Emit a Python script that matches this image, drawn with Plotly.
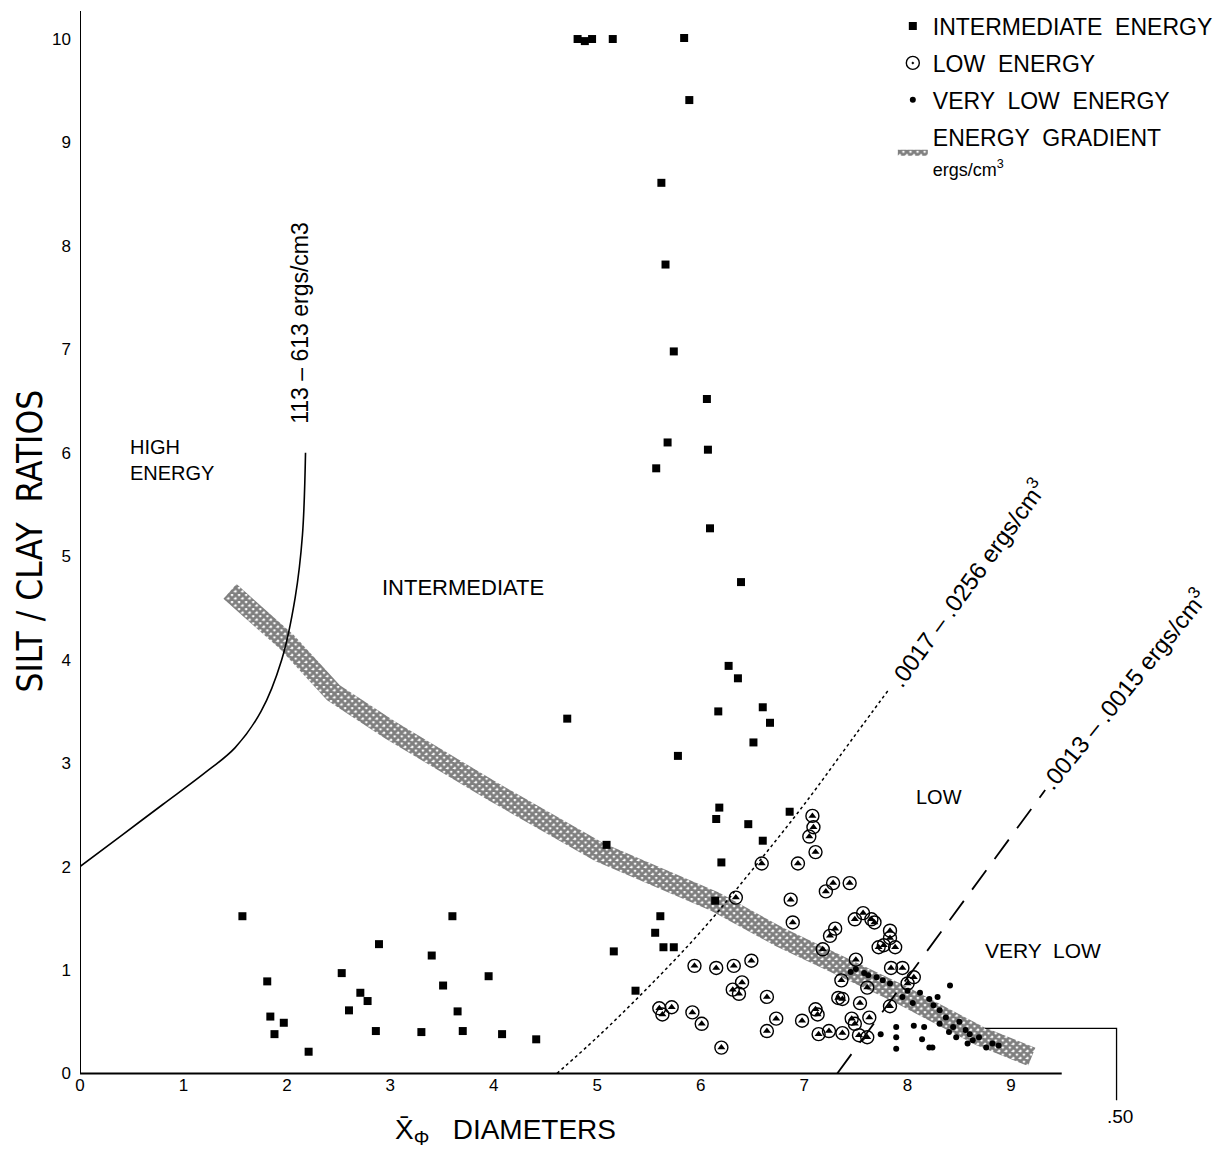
import numpy as np
import plotly.graph_objects as go

# ---------------- data ----------------
inter_x = [4.81, 4.88, 4.95, 5.15, 5.84, 5.89, 5.62, 5.66, 5.74, 6.06, 5.68, 6.07, 5.57, 6.09, 6.39,
           6.27, 6.36, 6.17, 4.71, 6.60, 6.67, 6.51, 5.78, 6.18, 6.15, 6.46, 6.86, 6.60, 6.20, 6.14,
           5.61, 5.56, 5.64, 5.74, 5.16, 5.37, 5.09,
           1.57, 1.81, 1.84, 1.97, 1.88, 2.21, 2.53, 2.89, 2.71, 2.78, 2.60, 2.86, 3.30, 3.40, 3.60,
           3.51, 3.65, 3.70, 3.95, 4.08, 4.41]
inter_y = [10.0, 9.98, 10.0, 10.0, 10.01, 9.41, 8.61, 7.82, 6.98, 6.52, 6.10, 6.03, 5.85, 5.27, 4.75,
           3.94, 3.82, 3.50, 3.43, 3.54, 3.39, 3.20, 3.07, 2.57, 2.46, 2.41, 2.53, 2.25, 2.04, 1.67,
           1.52, 1.36, 1.22, 1.22, 1.18, 0.80, 2.21,
           1.52, 0.89, 0.55, 0.49, 0.38, 0.21, 0.97, 1.25, 0.78, 0.70, 0.61, 0.41, 0.40, 1.14, 1.52,
           0.85, 0.60, 0.41, 0.94, 0.38, 0.33]

low_x = [7.08, 7.09, 7.05, 7.11, 6.59, 6.94, 7.28, 7.21, 7.44, 6.34, 6.87, 6.89, 7.30, 7.25, 7.57,
         7.49, 7.65, 7.68, 7.83, 7.83, 7.72, 7.88, 7.77, 7.18, 7.50, 7.36, 7.61, 7.84, 7.95, 8.06,
         8.00, 7.83, 5.94, 6.15, 6.32, 6.49, 6.31, 6.40, 6.37, 6.64, 7.33, 7.37, 7.54, 5.60, 5.72,
         5.63, 5.92, 6.01, 6.73, 6.64, 6.98, 7.11, 7.13, 7.46, 7.49, 7.63, 7.14, 7.24, 7.37, 7.53,
         7.61, 6.20]
low_y = [2.49, 2.38, 2.29, 2.14, 2.03, 2.03, 1.84, 1.76, 1.84, 1.70, 1.68, 1.46, 1.40, 1.33, 1.55,
         1.49, 1.49, 1.46, 1.38, 1.31, 1.22, 1.22, 1.24, 1.20, 1.10, 0.90, 0.83, 1.02, 1.02, 0.93,
         0.87, 0.65, 1.04, 1.02, 1.04, 1.09, 0.81, 0.88, 0.77, 0.74, 0.73, 0.72, 0.68, 0.63, 0.64,
         0.57, 0.59, 0.48, 0.53, 0.41, 0.51, 0.62, 0.57, 0.53, 0.48, 0.54, 0.38, 0.41, 0.39, 0.37,
         0.35, 0.25]

vlow_x = [8.41, 7.89, 8.06, 8.16, 7.89, 8.14, 7.89, 8.21, 8.24, 7.74, 8.29, 8.58,
          7.50, 7.58, 7.70, 7.83, 7.95, 8.05, 8.21, 8.31, 8.37, 8.44, 8.56, 8.69, 8.82, 8.76,
          8.31, 8.47, 8.63, 8.12, 8.25, 8.50, 8.40, 8.60, 8.88, 7.76, 7.62, 8.00, 7.45]
vlow_y = [0.85, 0.45, 0.46, 0.45, 0.35, 0.33, 0.24, 0.25, 0.25, 0.38, 0.74, 0.29,
          1.01, 0.97, 0.93, 0.87, 0.74, 0.68, 0.72, 0.61, 0.54, 0.45, 0.42, 0.35, 0.29, 0.25,
          0.48, 0.35, 0.32, 0.78, 0.66, 0.50, 0.40, 0.38, 0.27, 0.90, 0.95, 0.80, 0.98]

# energy gradient band centre line
band_x = [1.45, 2.00, 2.45, 3.00, 4.00, 5.02, 6.14, 6.76, 7.92, 8.70, 9.20]
band_y = [4.66, 4.17, 3.68, 3.32, 2.72, 2.14, 1.66, 1.32, 0.77, 0.36, 0.16]

# boundary curves
high_x = [0.0, 0.4, 0.8, 1.2, 1.5, 1.75, 1.95, 2.08, 2.15, 2.18]
high_y = [2.0, 2.3, 2.6, 2.9, 3.15, 3.5, 4.0, 4.6, 5.2, 6.0]

dot_x = [4.61, 5.0, 5.5, 6.0, 6.5, 7.0, 7.5, 7.81]
dot_y = [0.0, 0.35, 0.84, 1.37, 1.97, 2.60, 3.28, 3.70]

dash_x = [7.32, 9.33]
dash_y = [0.0, 2.74]

bracket_x = [8.75, 10.02, 10.02]
bracket_y = [0.435, 0.435, -0.26]

x_ticks = list(range(0, 10))
y_ticks = list(range(0, 11))

# ---------------- figure ----------------
FONT = "Liberation Sans, Arial, sans-serif"
fig = go.Figure()

# band polygon (offset perpendicular to centre line)
bx = np.array(band_x)
by = np.array(band_y)
dx = np.gradient(bx)
dy = np.gradient(by)
n = np.hypot(dx, dy)
nx, ny = -dy / n, dx / n
hw = 0.095
upper_x = bx + nx * hw
upper_y = by + ny * hw
lower_x = bx - nx * hw
lower_y = by - ny * hw
poly_x = np.concatenate([upper_x, lower_x[::-1], upper_x[:1]])
poly_y = np.concatenate([upper_y, lower_y[::-1], upper_y[:1]])

fig.add_trace(go.Scatter(
    x=poly_x, y=poly_y, mode="lines", fill="toself",
    line=dict(width=0, color="rgba(0,0,0,0)"),
    fillcolor="white",
    fillpattern=dict(shape="x", size=5, solidity=0.8, fgcolor="black", bgcolor="white"),
    name="ENERGY  GRADIENT<br><span style='font-size:18px'>ergs/cm<sup>3</sup></span>",
    legendgroup="d", legendrank=4, hoverinfo="skip"))

# lines
fig.add_trace(go.Scatter(x=high_x, y=high_y, mode="lines", line=dict(color="black", width=1.6, shape="spline"),
                         showlegend=False, hoverinfo="skip"))
fig.add_trace(go.Scatter(x=dot_x, y=dot_y, mode="lines", line=dict(color="black", width=1.5, dash="dot", shape="spline"),
                         showlegend=False, hoverinfo="skip"))
fig.add_trace(go.Scatter(x=dash_x, y=dash_y, mode="lines", line=dict(color="black", width=1.8, dash="24px,14px"),
                         showlegend=False, hoverinfo="skip"))
fig.add_trace(go.Scatter(x=bracket_x, y=bracket_y, mode="lines", line=dict(color="black", width=1.3),
                         showlegend=False, hoverinfo="skip"))

# points
fig.add_trace(go.Scatter(x=inter_x, y=inter_y, mode="markers", name="INTERMEDIATE  ENERGY",
                         marker=dict(symbol="square", size=8, color="black"),
                         legendgroup="a", legendrank=1))
fig.add_trace(go.Scatter(x=low_x, y=low_y, mode="markers", name="LOW  ENERGY",
                         marker=dict(symbol="circle-open-dot", size=13, color="black", line=dict(width=1.4, color="black")),
                         legendgroup="b", legendrank=2))
fig.add_trace(go.Scatter(x=low_x, y=low_y, mode="markers", showlegend=False,
                         marker=dict(symbol="triangle-up", size=7, color="black"),
                         legendgroup="b", hoverinfo="skip"))
fig.add_trace(go.Scatter(x=vlow_x, y=vlow_y, mode="markers", name="VERY  LOW  ENERGY",
                         marker=dict(symbol="circle", size=6, color="black"),
                         legendgroup="c", legendrank=3))

# axis lines
fig.add_shape(type="line", x0=0, x1=9.49, y0=0, y1=0, line=dict(color="black", width=2))
fig.add_shape(type="line", x0=0, x1=0, y0=0, y1=10.27, line=dict(color="black", width=2))

# annotations
def ann(text, x, y, size=17, angle=0, xanchor="center", align="center", xref="x", yref="y", family=FONT):
    fig.add_annotation(text=text, x=x, y=y, xref=xref, yref=yref, showarrow=False,
                       textangle=angle, xanchor=xanchor, yanchor="middle", align=align,
                       font=dict(family=family, size=size, color="black"))

ann("HIGH<br>ENERGY", 0.46, 5.93, size=20, xanchor="left", align="left")
ann("INTERMEDIATE", 3.70, 4.70, size=22)
ann("LOW", 8.30, 2.67, size=20)
ann("VERY  LOW", 9.31, 1.19, size=21)
ann("113 – 613 ergs/cm3", 2.13, 7.26, size=23, angle=-90)
ann(".0017 – .0256 ergs/cm<sup>3</sup>", 8.57, 4.74, size=24, angle=-54)
ann(".0013 – .0015 ergs/cm<sup>3</sup>", 10.08, 3.72, size=24, angle=-51)
ann(".50", 10.05, -0.42, size=19)
ann("X\u0304<sub>\u03a6</sub>   DIAMETERS", 4.11, -0.56, size=28)
ann("SILT / CLAY  RATIOS", -0.044, 5.15, size=35, angle=-90, xref="paper",
    family="Liberation Sans Narrow, DejaVu Sans Condensed, Liberation Sans, sans-serif")

Y1 = 10.30
Y0 = -0.74
fig.update_layout(
    width=1224, height=1150,
    margin=dict(l=72, r=12, t=0, b=8, autoexpand=False),
    paper_bgcolor="white", plot_bgcolor="white",
    font=dict(family=FONT, color="black"),
    xaxis=dict(range=[0, 11.02], tickvals=x_ticks, showgrid=False, zeroline=False, showline=False,
               ticks="", anchor="free", position=(0 - Y0) / (Y1 - Y0),
               tickfont=dict(family=FONT, size=17)),
    yaxis=dict(range=[Y0, Y1], tickvals=y_ticks, showgrid=False, zeroline=False, showline=False,
               ticks="", ticklabelstandoff=8, tickfont=dict(family=FONT, size=17)),
    legend=dict(x=0.713, y=1.003, xanchor="left", yanchor="top", traceorder="grouped",
                tracegroupgap=4, font=dict(family=FONT, size=23), bgcolor="rgba(0,0,0,0)",
                itemwidth=30),
    showlegend=True,
)

fig.write_html("out.html")
